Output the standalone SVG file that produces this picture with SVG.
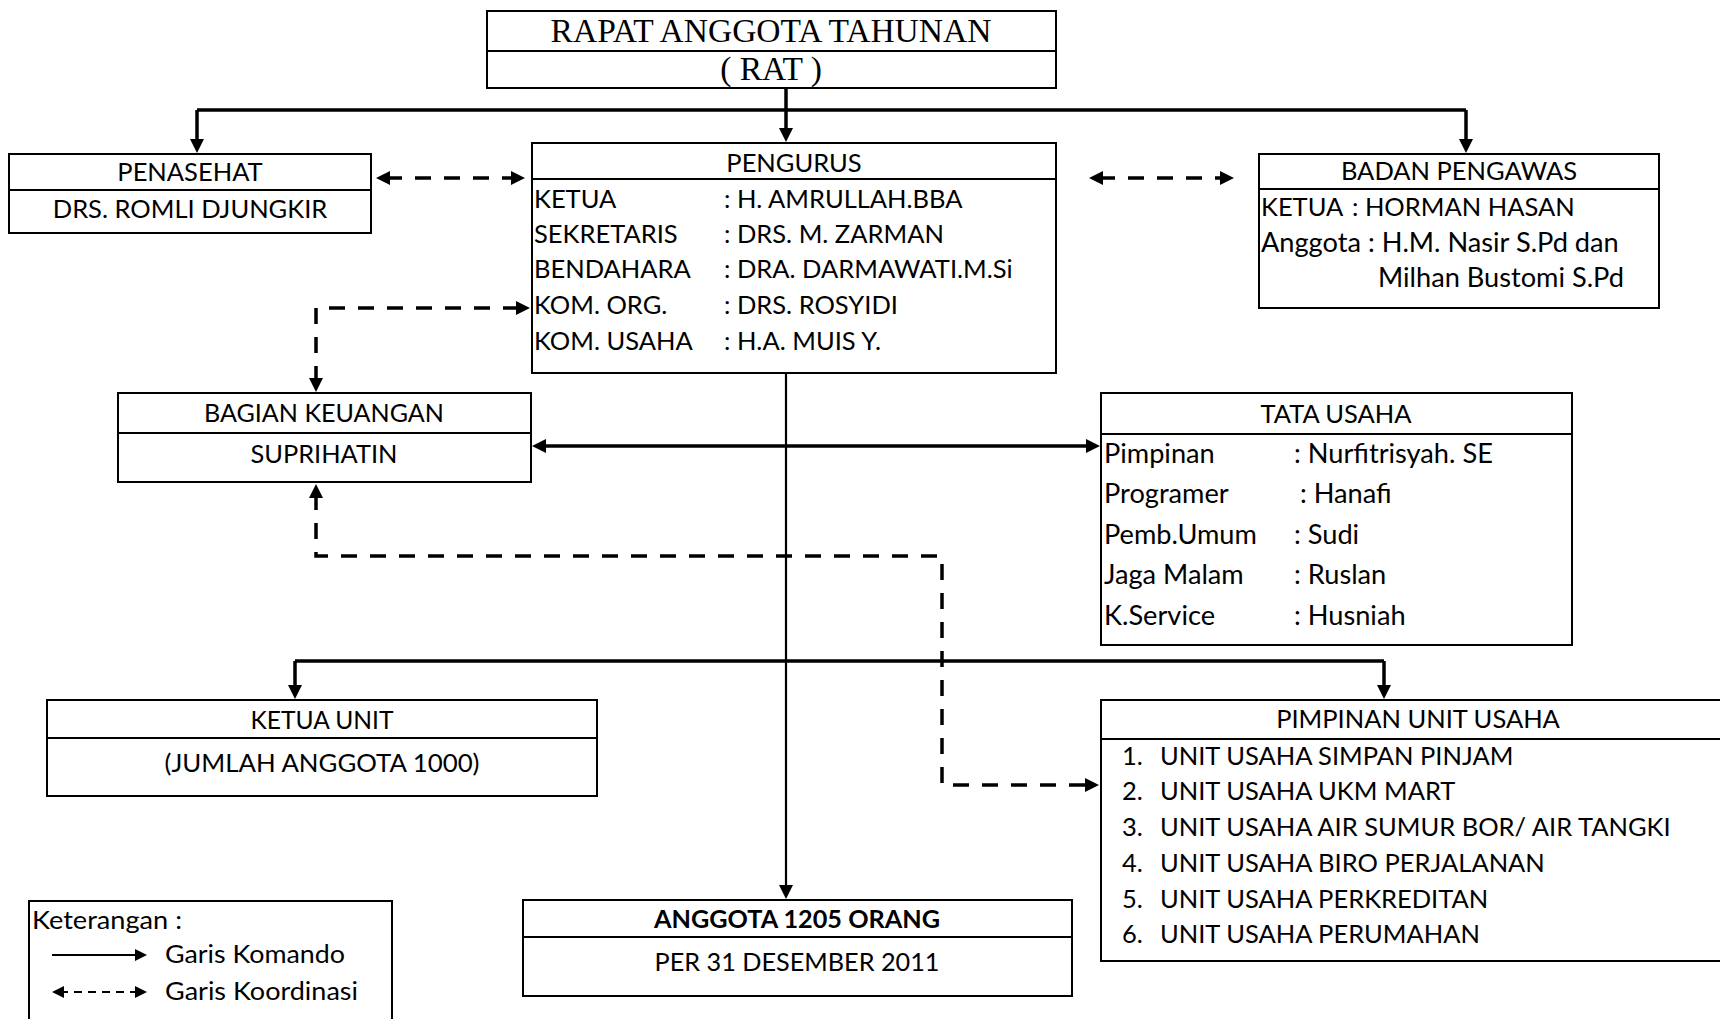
<svg xmlns="http://www.w3.org/2000/svg" width="1720" height="1019" viewBox="0 0 1720 1019">
<style>
.box{fill:#fff;stroke:#000;stroke-width:2}
.div{stroke:#000;stroke-width:2}
.t{font-family:Lato,"Open Sans","Liberation Sans",sans-serif;font-size:25.5px;fill:#000}
.m{font-size:27.2px}
.c{text-anchor:middle}
.serif{font-family:"Liberation Serif","Times New Roman",serif;font-size:33.5px;fill:#000;text-anchor:middle}
.bus{fill:none;stroke:#000;stroke-width:3.5}
.solid{fill:none;stroke:#000;stroke-width:2.2}
.dash{fill:none;stroke:#000;stroke-width:3.5;stroke-dasharray:16 13}
</style>
<defs>
<marker id="ah" viewBox="0 0 14 14" refX="4" refY="7" markerWidth="14" markerHeight="14" markerUnits="userSpaceOnUse" orient="auto-start-reverse"><path d="M0,0 L14,7 L0,14 z" fill="#000"/></marker>
<marker id="ahs" viewBox="0 0 12 12" refX="4" refY="6" markerWidth="12" markerHeight="12" markerUnits="userSpaceOnUse" orient="auto-start-reverse"><path d="M0,0 L12,6 L0,12 z" fill="#000"/></marker>
</defs>
<rect width="1720" height="1019" fill="#fff"/>

<g id="connectors">
<path class="bus" d="M197,110 H1466"/>
<path class="bus" d="M786,88 V132" marker-end="url(#ah)"/>
<path class="bus" d="M197,110 V143" marker-end="url(#ah)"/>
<path class="bus" d="M1466,110 V143" marker-end="url(#ah)"/>
<path class="dash" d="M386,178 H515" marker-start="url(#ah)" marker-end="url(#ah)"/>
<path class="dash" d="M1099,178 H1224" marker-start="url(#ah)" marker-end="url(#ah)"/>
<path class="dash" d="M316,382 V308 H520" marker-start="url(#ah)" marker-end="url(#ah)"/>
<path class="bus" d="M542,446 H1090" marker-start="url(#ah)" marker-end="url(#ah)"/>
<path class="solid" d="M786,373 V889" marker-end="url(#ah)"/>
<path class="dash" d="M316,494 V556 H942 V785 H1089" marker-start="url(#ah)" marker-end="url(#ah)"/>
<path class="bus" d="M295,661 H1384"/>
<path class="bus" d="M295,661 V689" marker-end="url(#ah)"/>
<path class="bus" d="M1384,661 V689" marker-end="url(#ah)"/>
</g>

<g id="rat">
<rect class="box" x="487" y="11" width="569" height="77"/>
<line class="div" x1="487" y1="51" x2="1056" y2="51"/>
<text class="serif" x="771" y="42">RAPAT ANGGOTA TAHUNAN</text>
<text class="serif" x="771" y="80">( RAT )</text>
</g>

<g id="penasehat">
<rect class="box" x="9" y="154" width="362" height="79"/>
<line class="div" x1="9" y1="190" x2="371" y2="190"/>
<text class="t c" x="190" y="181">PENASEHAT</text>
<text class="t c" x="190" y="218">DRS. ROMLI DJUNGKIR</text>
</g>

<g id="pengurus">
<rect class="box" x="532" y="143" width="524" height="230"/>
<line class="div" x1="532" y1="179" x2="1056" y2="179"/>
<text class="t c" x="794" y="172">PENGURUS</text>
<text class="t" x="534" y="208">KETUA</text><text class="t" x="724" y="208">: H. AMRULLAH.BBA</text>
<text class="t" x="534" y="243">SEKRETARIS</text><text class="t" x="724" y="243">: DRS. M. ZARMAN</text>
<text class="t" x="534" y="278">BENDAHARA</text><text class="t" x="724" y="278">: DRA. DARMAWATI.M.Si</text>
<text class="t" x="534" y="314">KOM. ORG.</text><text class="t" x="724" y="314">: DRS. ROSYIDI</text>
<text class="t" x="534" y="350">KOM. USAHA</text><text class="t" x="724" y="350">: H.A. MUIS Y.</text>
</g>

<g id="badan-pengawas">
<rect class="box" x="1259" y="154" width="400" height="154"/>
<line class="div" x1="1259" y1="189" x2="1659" y2="189"/>
<text class="t c" x="1459" y="180">BADAN PENGAWAS</text>
<text class="t" x="1261" y="216">KETUA</text><text class="t" x="1352" y="216">: HORMAN HASAN</text>
<text class="t m" x="1261" y="252">Anggota : H.M. Nasir S.Pd dan</text>
<text class="t m" x="1378" y="287">Milhan Bustomi S.Pd</text>
</g>

<g id="bagian-keuangan">
<rect class="box" x="118" y="393" width="413" height="89"/>
<line class="div" x1="118" y1="433" x2="531" y2="433"/>
<text class="t c" x="324" y="422" textLength="240" lengthAdjust="spacingAndGlyphs">BAGIAN KEUANGAN</text>
<text class="t c" x="324" y="463" textLength="147" lengthAdjust="spacingAndGlyphs">SUPRIHATIN</text>
</g>

<g id="tata-usaha">
<rect class="box" x="1101" y="393" width="471" height="252"/>
<line class="div" x1="1101" y1="434" x2="1572" y2="434"/>
<text class="t c" x="1336" y="423">TATA USAHA</text>
<text class="t m" x="1104" y="463">Pimpinan</text><text class="t m" x="1294" y="463">: Nurfitrisyah. SE</text>
<text class="t m" x="1104" y="503">Programer</text><text class="t m" x="1300" y="503">: Hanafi</text>
<text class="t m" x="1104" y="544">Pemb.Umum</text><text class="t m" x="1294" y="544">: Sudi</text>
<text class="t m" x="1104" y="584">Jaga Malam</text><text class="t m" x="1294" y="584">: Ruslan</text>
<text class="t m" x="1104" y="625">K.Service</text><text class="t m" x="1294" y="625">: Husniah</text>
</g>

<g id="ketua-unit">
<rect class="box" x="47" y="700" width="550" height="96"/>
<line class="div" x1="47" y1="738" x2="597" y2="738"/>
<text class="t c" x="322" y="729" textLength="143" lengthAdjust="spacingAndGlyphs">KETUA UNIT</text>
<text class="t c" x="322" y="772" textLength="315" lengthAdjust="spacingAndGlyphs">(JUMLAH ANGGOTA 1000)</text>
</g>

<g id="pimpinan-unit-usaha">
<rect class="box" x="1101" y="700" width="640" height="261"/>
<line class="div" x1="1101" y1="739" x2="1741" y2="739"/>
<text class="t c" x="1418" y="728">PIMPINAN UNIT USAHA</text>
<text class="t" x="1122" y="765">1.</text><text class="t" x="1160" y="765">UNIT USAHA SIMPAN PINJAM</text>
<text class="t" x="1122" y="800">2.</text><text class="t" x="1160" y="800">UNIT USAHA UKM MART</text>
<text class="t" x="1122" y="836">3.</text><text class="t" x="1160" y="836">UNIT USAHA AIR SUMUR BOR/ AIR TANGKI</text>
<text class="t" x="1122" y="872">4.</text><text class="t" x="1160" y="872">UNIT USAHA BIRO PERJALANAN</text>
<text class="t" x="1122" y="908">5.</text><text class="t" x="1160" y="908">UNIT USAHA PERKREDITAN</text>
<text class="t" x="1122" y="943">6.</text><text class="t" x="1160" y="943">UNIT USAHA PERUMAHAN</text>
</g>

<g id="anggota">
<rect class="box" x="523" y="900" width="549" height="96"/>
<line class="div" x1="523" y1="937" x2="1072" y2="937"/>
<text class="t c" x="797" y="928" font-weight="bold" textLength="286" lengthAdjust="spacingAndGlyphs">ANGGOTA 1205 ORANG</text>
<text class="t c" x="797" y="971" textLength="285" lengthAdjust="spacingAndGlyphs">PER 31 DESEMBER 2011</text>
</g>

<g id="legend">
<rect class="box" x="29" y="901" width="363" height="140"/>
<text class="t" x="32" y="929" textLength="150" lengthAdjust="spacingAndGlyphs">Keterangan :</text>
<path class="solid" d="M52,955 H139" marker-end="url(#ahs)"/>
<text class="t" x="165" y="963" textLength="180" lengthAdjust="spacingAndGlyphs">Garis Komando</text>
<path fill="none" stroke="#000" stroke-width="2.2" stroke-dasharray="8 6" d="M60,992 H139" marker-start="url(#ahs)" marker-end="url(#ahs)"/>
<text class="t" x="165" y="1000" textLength="193" lengthAdjust="spacingAndGlyphs">Garis Koordinasi</text>
</g>
</svg>
